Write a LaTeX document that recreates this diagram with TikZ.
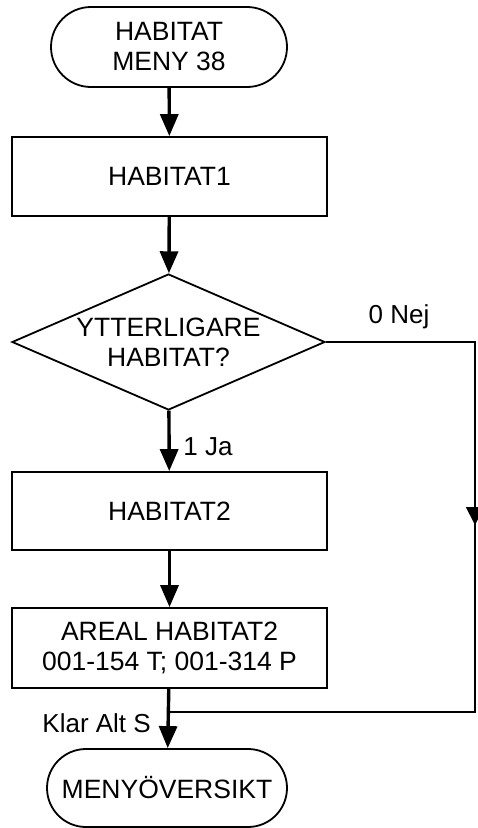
\documentclass[tikz,border=0pt]{standalone}
\usepackage{fontspec}
\setmainfont{Liberation Sans}
\usetikzlibrary{shapes.geometric,arrows.meta}
\begin{document}
\begin{tikzpicture}[x=1pt,y=1pt,
  every node/.style={font=\fontsize{26.5}{30}\selectfont, align=center, inner sep=0pt},
  term/.style={draw, line width=1.8pt, rounded corners=39pt, minimum height=78pt},
  proc/.style={draw, line width=1.8pt, minimum width=315pt},
  decis/.style={draw, line width=1.8pt, diamond, aspect=2.3, minimum width=313pt, minimum height=136pt},
  flow/.style={line width=3.4pt, -{Triangle[length=22pt,width=18pt]}},
  loopline/.style={line width=1.8pt},
  lbl/.style={font=\fontsize{26}{30}\selectfont}
]
\useasboundingbox (0,0) rectangle (477,-828);
\node[term, minimum width=236pt, minimum height=80pt, rounded corners=40pt] (start) at (169,-47) {HABITAT\\MENY 38};
\node[proc, minimum height=79pt] (h1) at (169.5,-176.5) {HABITAT1};
\node[decis] (dec) at (168.5,-342) {YTTERLIGARE\\HABITAT?};
\node[proc, minimum height=78pt] (h2) at (169.5,-511) {HABITAT2};
\node[proc, minimum height=80pt] (areal) at (169.5,-648) {AREAL HABITAT2\\001-154 T; 001-314 P};
\node[term, minimum width=240pt] (end) at (167,-788) {MENYÖVERSIKT};

\coordinate (join) at (169,-712);
\coordinate (rtop) at (475,-342);
\coordinate (rmid) at (475,-525);
\coordinate (rbot) at (475,-712);

\draw[flow] (start) -- (h1);
\draw[flow] (h1) -- (dec);
\draw[flow] (dec) -- (h2);
\draw[flow] (h2) -- (areal);
\draw[flow] (areal) -- (end);

\draw[loopline] (dec.east) -- (rtop) -- (rbot) -- (join);
\draw[line width=1.8pt, -{Triangle[length=18pt,width=18pt]}] (rtop) -- (rmid);

\node[lbl] (nej) at (399,-317) {0 Nej};
\node[lbl] (ja) at (208,-447) {1 Ja};
\node[lbl, anchor=east] (klar) at (151,-723) {Klar Alt S};
\end{tikzpicture}
\end{document}
